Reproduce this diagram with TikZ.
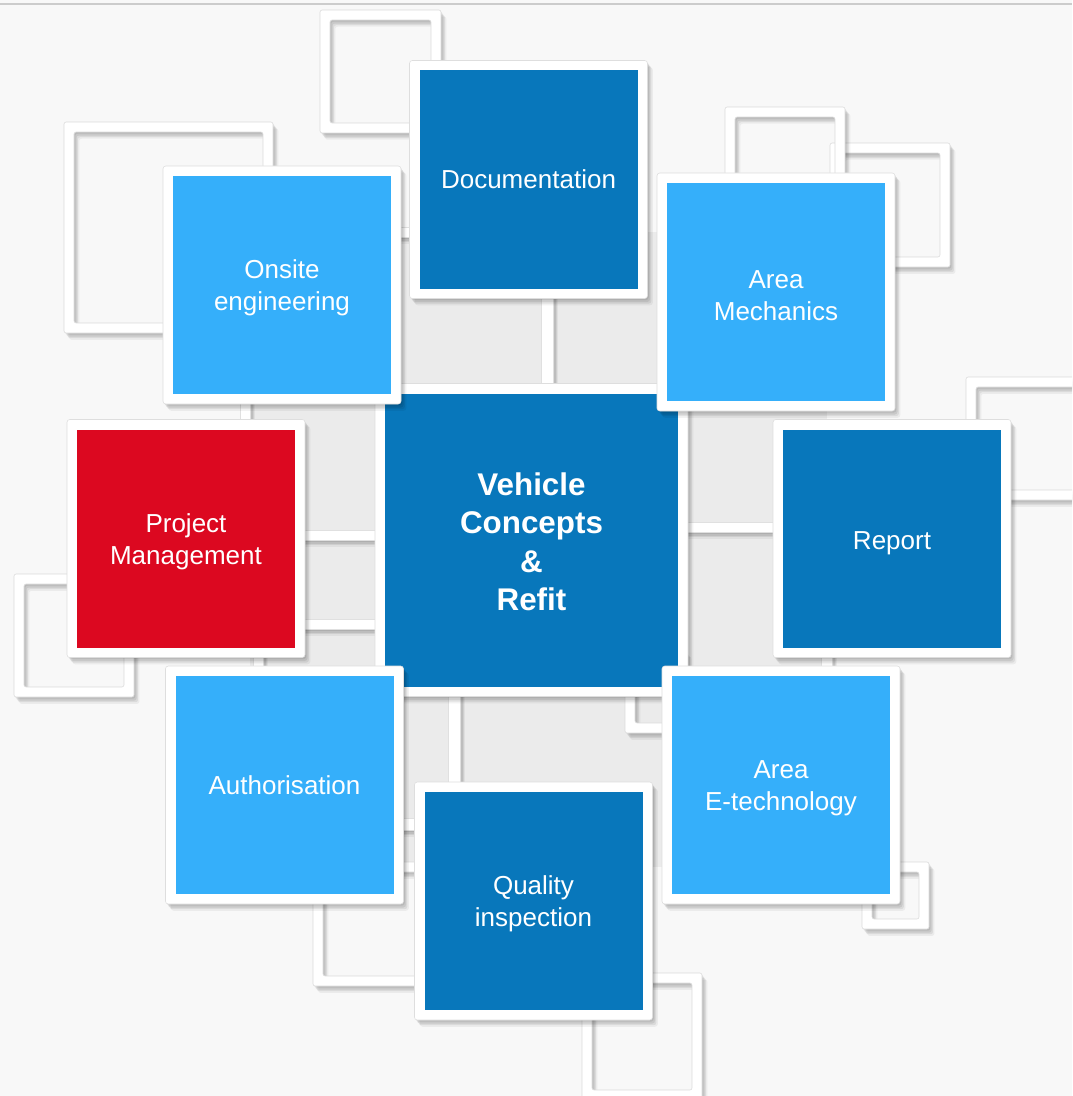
\documentclass[tikz,border=0pt]{standalone}
\usepackage{fontspec}
\setmainfont{Liberation Sans}
\usepackage{xcolor}
\usepackage{tikz}
\usetikzlibrary{calc,positioning}
\definecolor{deepblue}{HTML}{0877BB}
\definecolor{skyblue}{HTML}{35AFFA}
\definecolor{signalred}{HTML}{DC0820}
\definecolor{paper}{HTML}{F8F8F8}
\definecolor{lattice}{HTML}{EBEBEB}
\newcommand{\pxu}{0.025cm}
\newcommand{\tiletext}{\fontsize{18.5}{22.8}\selectfont}
\newcommand{\coretext}{\fontsize{22.3}{27.4}\selectfont\bfseries}
% pushes the first line of a tile text a little down
\newcommand{\sink}[1]{\rule{0pt}{#1}}
\tikzset{
  softshadow/.style={
    preaction={fill=black,opacity=.08,#1,transform canvas={shift={(0.9pt,-1.2pt)}}},
    preaction={fill=black,opacity=.08,#1,transform canvas={shift={(1.8pt,-2.5pt)}}},
    preaction={fill=black,opacity=.07,#1,transform canvas={shift={(2.8pt,-3.7pt)}}},
    preaction={fill=black,opacity=.05,#1,transform canvas={shift={(3.8pt,-4.8pt)}}}},
  softshadow/.default={},
  tile/.style={rectangle, draw=black!13, line width=0.4pt, fill=white,
    rounded corners=2pt, inner sep=0pt, minimum size=238*\pxu,
    text=white, align=center, font=\tiletext, softshadow},
  inset/.style={path picture={\fill[#1, sharp corners]
    ($(path picture bounding box.south west)+(10*\pxu,10*\pxu)$) rectangle
    ($(path picture bounding box.north east)-(10*\pxu,10*\pxu)$);}},
  hollowsq/.style={fill=white, draw=black!14, line width=0.4pt, even odd rule,
    rounded corners=1.5pt, softshadow={even odd rule}},
  bar/.style={fill=white, draw=black!12, line width=0.4pt, softshadow}
}
\newcommand{\hollowsquare}[4]{\path[hollowsq] (#1,#2) rectangle (#3,#4)
  ({#1+10},{#2+10}) rectangle ({#3-10},{#4-10});}

\begin{document}
\begin{tikzpicture}[x=\pxu, y=-\pxu]
  \clip (0,0) rectangle (1072,1096);
  \fill[paper] (0,0) rectangle (1072,1096);
  \draw[black!20, line width=2*\pxu] (0,4) -- (1072,4);
  % lattice behind the tiles
  \fill[lattice] (250,232) rectangle (827,867);
  \foreach \xa/\ya/\xb/\yb in {395/227/416/237, 541/290/553/390, 240/395/250/425,
      253/650/263/672, 300/530/380/540, 300/619/380/629, 683/522/778/532,
      821/650/832/672, 448/690/460/790, 398/818/420/830}
    \path[bar] (\xa,\ya) rectangle (\xb,\yb);
  % empty frames
  \foreach \xa/\ya/\xb/\yb in {320/10/441/133, 64/122/273/333, 830/143/950/267,
      725/107/845/228, 966/377/1090/500, 14/574/134/697, 625/650/686/733,
      862/862/929/929, 582/973/702/1100, 313/862/435/986}
    \hollowsquare{\xa}{\ya}{\xb}{\yb};

  \node[tile, minimum size=313*\pxu, font=\coretext, inset=deepblue] at (531.5,540) (core)
    {\sink{18.9pt}Vehicle\\Concepts\\\&\\Refit};
  \node[tile, inset=deepblue] at (528.5,179.5) (doc) {Documentation};
  \node[tile, inset=skyblue] at (282,285) (onsite) {\sink{17.6pt}Onsite\\engineering};
  \node[tile, inset=skyblue] at (776,292) (mech) {\sink{17.6pt}Area\\Mechanics};
  \node[tile, inset=signalred] at (186,538.5) (pm) {\sink{17.6pt}Project\\Management};
  \node[tile, inset=deepblue] at (892,538.5) (report) {\sink{19.2pt}Report};
  \node[tile, inset=skyblue] at (284.5,785) (auth) {Authorisation};
  \node[tile, inset=skyblue] at (781,785) (etech) {\sink{17.6pt}Area\\E-technology};
  \node[tile, inset=deepblue] at (533.5,901) (quality) {\sink{17.6pt}Quality\\inspection};
\end{tikzpicture}
\end{document}
